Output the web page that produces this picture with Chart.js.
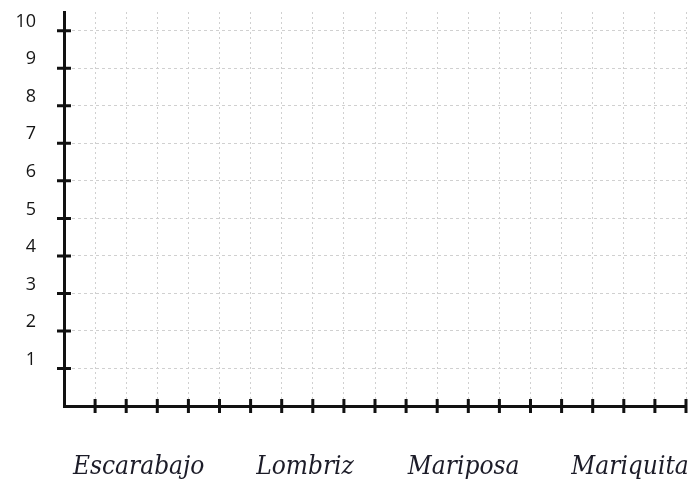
<!DOCTYPE html>
<html>
<head>
<meta charset="utf-8">
<script src="https://cdn.jsdelivr.net/npm/chart.js@4.4.1/dist/chart.umd.min.js"></script>
<style>
  html, body { margin: 0; padding: 0; background: #fff; }
  #wrap { width: 696px; height: 489px; }
</style>
</head>
<body>
<div id="wrap"><canvas id="myChart1"></canvas></div>
<script>
// blank worksheet: the names are there, the bars are still to be filled in
let categories = ['Escarabajo', 'Lombriz', 'Mariposa', 'Mariquita'];
let values = [null, null, null, null];
let yTicks = [0, 1, 2, 3, 4, 5, 6, 7, 8, 9, 10];
let cells = 20;                          // small squares along the bottom
let namePos = [2.4, 7.75, 12.85, 18.2];  // where each name sits under the grid

let gridColor = '#d0d0d0';
let ink = '#111';

// little black marks that cross both axes
let crossTicks = {
  id: 'crossTicks',
  afterDraw(chart) {
    let c = chart.ctx;
    let y = chart.scales.y;
    let g = chart.scales.grid;
    c.save();
    c.strokeStyle = ink;
    c.lineWidth = 3;
    c.beginPath();
    y.ticks.forEach(t => {
      if (t.value === 0) return;
      let py = y.getPixelForValue(t.value);
      c.moveTo(y.right - 7, py);
      c.lineTo(y.right + 7, py);
    });
    g.ticks.forEach(t => {
      if (t.value === 0) return;
      let px = g.getPixelForValue(t.value);
      c.moveTo(px, g.top - 7);
      c.lineTo(px, g.top + 7);
    });
    c.stroke();
    c.restore();
  }
};

let noPad = (scale) => {
  scale.paddingLeft = 0;
  scale.paddingRight = 0;
  scale.paddingTop = 0;
  scale.paddingBottom = 0;
};

let ctx = document.getElementById('myChart1').getContext('2d');
let myChart1 = new Chart(ctx, {
  type: 'bar',
  data: {
    labels: categories,
    datasets: [{
      data: values,
      backgroundColor: '#555',
      xAxisID: 'x',
      yAxisID: 'y'
    }]
  },
  options: {
    responsive: true,
    maintainAspectRatio: false,
    animation: false,
    layout: { padding: { top: 12, right: 10, left: 0, bottom: 0 } },
    plugins: {
      legend: { display: false },
      tooltip: { enabled: false }
    },
    scales: {
      x: { type: 'category', display: false },
      grid: {
        type: 'linear',
        axis: 'x',
        position: 'bottom',
        offset: false,
        min: 0,
        max: cells,
        ticks: { display: false, stepSize: 1 },
        grid: {
          offset: false,
          drawTicks: false,
          color: (c) => c.tick && c.tick.value === 0 ? 'rgba(0,0,0,0)' : gridColor,
          lineWidth: 1
        },
        border: { display: true, color: ink, width: 3, dash: [2, 3] },
        afterFit: (s) => { s.height = 0; noPad(s); }
      },
      names: {
        type: 'linear',
        axis: 'x',
        position: 'bottom',
        offset: false,
        min: 0,
        max: cells,
        grid: { display: false, drawTicks: false, offset: false },
        border: { display: false },
        afterBuildTicks: (s) => { s.ticks = namePos.map(v => ({ value: v })); },
        ticks: {
          autoSkip: false,
          maxRotation: 0,
          padding: 46,
          color: '#1c1c28',
          font: { family: '"DejaVu Serif Condensed", "DejaVu Serif", serif', style: 'italic', size: 26 },
          callback: (v, i) => categories[i]
        },
        afterFit: (s) => { s.height = 83; noPad(s); }
      },
      y: {
        type: 'linear',
        position: 'left',
        min: 0,
        max: 10.5,
        afterBuildTicks: (s) => { s.ticks = yTicks.map(v => ({ value: v })); },
        ticks: {
          padding: 28,
          labelOffset: -9,
          color: '#151515',
          font: { family: '"Open Sans", sans-serif', size: 18 },
          callback: (v) => v === 0 ? '' : v
        },
        grid: {
          drawTicks: false,
          color: (c) => c.tick && c.tick.value === 0 ? 'rgba(0,0,0,0)' : gridColor,
          lineWidth: 1
        },
        border: { display: true, color: ink, width: 3, dash: [3, 3] },
        afterFit: (s) => { s.width = 64; noPad(s); }
      }
    }
  },
  plugins: [crossTicks]
});
</script>
</body>
</html>
